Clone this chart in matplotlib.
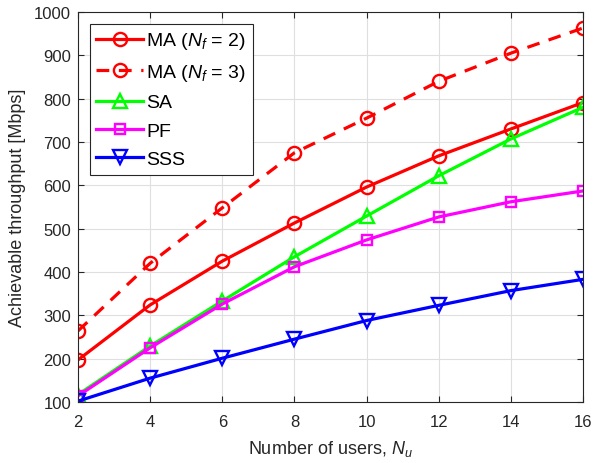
import matplotlib
matplotlib.use("Agg")
import matplotlib.pyplot as plt

plt.rcParams['font.family'] = ['Liberation Sans', 'DejaVu Sans']
plt.rcParams['mathtext.fontset'] = 'custom'
plt.rcParams['mathtext.it'] = 'Liberation Sans:italic'
plt.rcParams['mathtext.rm'] = 'Liberation Sans'

users = [2, 4, 6, 8, 10, 12, 14, 16]
ma_nf2 = [197, 324, 425, 513, 596, 668, 730, 791]
ma_nf3 = [264, 420, 548, 675, 755, 840, 905, 963]
sa = [117, 229, 333, 435, 529, 622, 707, 780]
pf = [114, 225, 326, 412, 474, 527, 562, 587]
sss = [102, 155, 201, 245, 288, 323, 357, 383]

fig = plt.figure(figsize=(5.93, 4.64), dpi=100)
ax = fig.add_axes([0.1315, 0.1315, 0.8516, 0.8405])

lw = 2.3
ms = 9.5
mew = 1.7
ax.plot(users, ma_nf2, color='#ff0000', lw=lw, marker='o', ms=ms, mfc='none', mew=mew,
        label=r'MA ($N_f$ = 2)')
ax.plot(users, ma_nf3, color='#ff0000', lw=lw, ls=(0, (4, 3)), marker='o', ms=ms, mfc='none', mew=mew,
        label=r'MA ($N_f$ = 3)')
ax.plot(users, sa, color='#00ff00', lw=lw, marker='^', ms=ms + 0.5, mfc='none', mew=mew, label='SA')
ax.plot(users, pf, color='#ff00ff', lw=lw, marker='s', ms=6.5, mfc='none', mew=mew, label='PF')
ax.plot(users, sss, color='#0000ff', lw=lw, marker='v', ms=ms + 0.5, mfc='none', mew=mew, label='SSS')

ax.set_xlim(2, 16)
ax.set_ylim(100, 1000)
ax.set_xticks(users)
ax.set_yticks(range(100, 1001, 100))
ax.grid(True, color='#dfdfdf', lw=0.8)
ax.set_axisbelow(True)
ax.tick_params(direction='in', top=True, right=True, labelsize=12, length=4, color='#262626',
               labelcolor='#262626')
ax.tick_params(axis='x', pad=9)
ax.tick_params(axis='y', pad=5)
for s in ax.spines.values():
    s.set_color('#262626')
    s.set_linewidth(0.8)
ax.set_xlabel(r'Number of users, $N_u$', fontsize=13, color='#262626', labelpad=6)
ax.set_ylabel('Achievable throughput [Mbps]', fontsize=13, color='#262626', labelpad=6)

leg = ax.legend(loc='upper left', fontsize=14, fancybox=False, edgecolor='#262626',
                framealpha=1, handlelength=2.4, borderaxespad=0.6, labelspacing=0.55,
                handletextpad=0.15, borderpad=0.35)
leg.get_frame().set_linewidth(0.8)

fig.savefig('out.png', dpi=100)
